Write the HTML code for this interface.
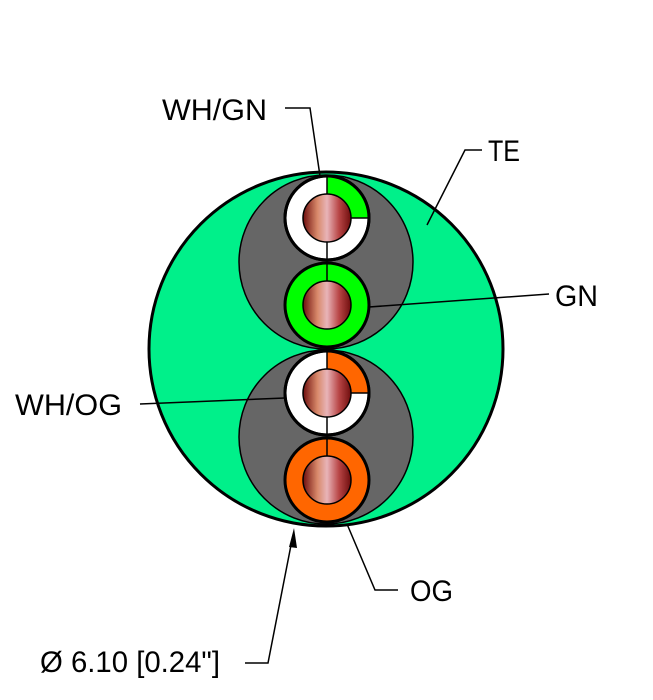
<!DOCTYPE html>
<html><head><style>body{margin:0;background:#fff}svg{display:block}text{font-family:"Liberation Sans",sans-serif;font-size:30px;fill:#000}</style></head><body>
<svg width="653" height="700" viewBox="0 0 653 700" xmlns="http://www.w3.org/2000/svg">
<defs>
<linearGradient id="cu" x1="0" x2="1" y1="0" y2="0">
<stop offset="0" stop-color="#6e0d0d"/><stop offset="0.3" stop-color="#d8896a"/><stop offset="0.5" stop-color="#e8b4b8"/><stop offset="0.75" stop-color="#b84545"/><stop offset="1" stop-color="#6e0d0d"/>
</linearGradient>
</defs>
<circle cx="326" cy="349" r="177" fill="#00f08a" stroke="#000" stroke-width="3"/>
<circle cx="326" cy="262" r="87" fill="#666" stroke="#000" stroke-width="1.5"/>
<circle cx="326" cy="437" r="87" fill="#666" stroke="#000" stroke-width="1.5"/>
<circle cx="327" cy="218" r="42" fill="#fff" stroke="#000" stroke-width="3"/>
<path d="M327 176 A42 42 0 0 1 369 218 L327 218Z" fill="#00ff00"/>
<circle cx="327" cy="218" r="42" fill="none" stroke="#000" stroke-width="3"/>
<line x1="327" y1="176" x2="327" y2="260" stroke="#000" stroke-width="1.5"/>
<line x1="327" y1="218" x2="369" y2="218" stroke="#000" stroke-width="1.5"/>
<circle cx="327" cy="218" r="24" fill="url(#cu)" stroke="#000" stroke-width="1.5"/>
<circle cx="327" cy="305" r="42" fill="#00ff00" stroke="#000" stroke-width="3"/>
<line x1="327" y1="263" x2="327" y2="290" stroke="#000" stroke-width="1.5"/>
<circle cx="327" cy="305" r="24" fill="url(#cu)" stroke="#000" stroke-width="1.5"/>
<circle cx="327" cy="393" r="42" fill="#fff" stroke="#000" stroke-width="3"/>
<path d="M327 351 A42 42 0 0 1 369 393 L327 393Z" fill="#ff6600"/>
<circle cx="327" cy="393" r="42" fill="none" stroke="#000" stroke-width="3"/>
<line x1="327" y1="351" x2="327" y2="435" stroke="#000" stroke-width="1.5"/>
<line x1="327" y1="393" x2="369" y2="393" stroke="#000" stroke-width="1.5"/>
<circle cx="327" cy="393" r="24" fill="url(#cu)" stroke="#000" stroke-width="1.5"/>
<circle cx="327" cy="480" r="42" fill="#ff6600" stroke="#000" stroke-width="3"/>
<line x1="327" y1="438" x2="327" y2="465" stroke="#000" stroke-width="1.5"/>
<circle cx="327" cy="480" r="24" fill="url(#cu)" stroke="#000" stroke-width="1.5"/>
<g stroke="#000" stroke-width="1.5" fill="none">
<polyline points="285,108 310,108 320,176"/>
<polyline points="482,150 465,150 427,225"/>
<polyline points="549,294 369,307"/>
<polyline points="140,404 285,398"/>
<polyline points="398,590 375,590 347,524"/>
<polyline points="245,663 268,663 292,540"/>
</g>
<polygon points="294,528 289,547 297,548" fill="#000"/>
<text x="162" y="120" textLength="105" lengthAdjust="spacingAndGlyphs">WH/GN</text>
<text x="488" y="161" textLength="32" lengthAdjust="spacingAndGlyphs">TE</text>
<text x="555" y="306" textLength="43" lengthAdjust="spacingAndGlyphs">GN</text>
<text x="15" y="415" textLength="107" lengthAdjust="spacingAndGlyphs">WH/OG</text>
<text x="410" y="601" textLength="43" lengthAdjust="spacingAndGlyphs">OG</text>
<text x="40" y="672" textLength="180" lengthAdjust="spacingAndGlyphs">Ø 6.10 [0.24"]</text>
</svg>
</body></html>
